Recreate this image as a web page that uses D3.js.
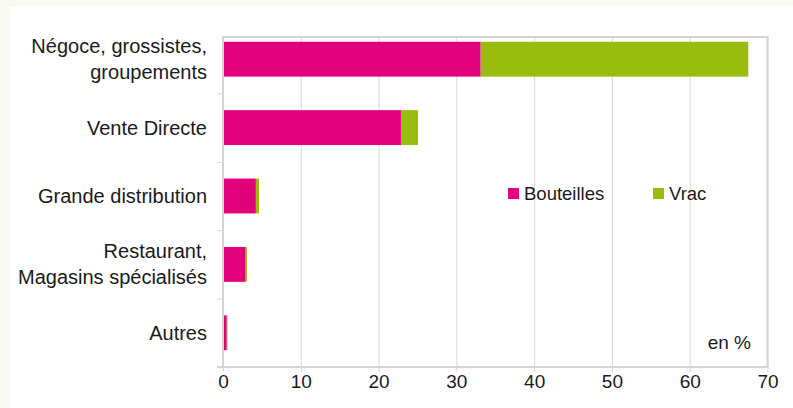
<!DOCTYPE html>
<html>
<head>
<meta charset="utf-8">
<script src="https://cdn.jsdelivr.net/npm/d3@7"></script>
<style>
  html, body { margin: 0; padding: 0; background: #f8f9f0; }
  svg { display: block; font-family: "Liberation Sans", Arial, sans-serif; }
</style>
</head>
<body>
<svg width="793" height="408"></svg>
<script>
// categories, top to bottom
var categories = ["Négoce, grossistes, groupements", "Vente Directe", "Grande distribution",
                  "Restaurant, Magasins spécialisés", "Autres"];
// label lines for each category
var labelLines = [["Négoce, grossistes,", "groupements"], ["Vente Directe"], ["Grande distribution"],
                  ["Restaurant,", "Magasins spécialisés"], ["Autres"]];
var bouteilles = [33.0, 22.75, 4.1, 2.7, 0.35];
var vrac = [34.4, 2.2, 0.4, 0.25, 0.1];
var seriesNames = ["Bouteilles", "Vrac"];
var xTicks = [0, 10, 20, 30, 40, 50, 60, 70];

var colors = { "Bouteilles": "#e3007b", "Vrac": "#99bd0f" };

var svg = d3.select("svg"),
    pLeft = 223, pRight = 767.5, pTop = 37, pBottom = 367,
    bandTop = 25;   // categories are laid out from here

// white panel
svg.append("rect").attr("x", 10).attr("y", 7).attr("width", 783).attr("height", 401).attr("fill", "#fff");

var x = d3.scaleLinear().domain([0, 70]).range([pLeft, pRight]);
var y = d3.scaleBand().domain(categories).range([bandTop, pBottom]).paddingInner(0.49).paddingOuter(0.245);
var yEdge = d3.scaleLinear().domain([0, categories.length]).range([bandTop, pBottom]);

// gridlines
svg.append("g")
    .attr("transform", "translate(0," + pBottom + ")")
    .call(d3.axisBottom(x).tickValues(xTicks).tickSize(-(pBottom - pTop)).tickFormat(""))
    .call(function (g) {
        g.select(".domain").remove();
        g.selectAll("line").attr("stroke", "#d9d9d9").attr("stroke-width", 1);
    });

// frame top + right
svg.append("path")
    .attr("d", "M" + pLeft + "," + pTop + "H" + pRight + "V" + pBottom)
    .attr("fill", "none").attr("stroke", "#d4d4d4").attr("stroke-width", 2);

// stacked bars
var stack = d3.stack().keys(seriesNames);
var rows = categories.map(function (c, i) {
    return { cat: c, "Bouteilles": bouteilles[i], "Vrac": vrac[i] };
});
var layers = stack(rows);

svg.append("g").selectAll("g")
    .data(layers)
    .join("g")
    .attr("fill", function (d) { return colors[d.key]; })
    .selectAll("rect")
    .data(function (d) { return d; })
    .join("rect")
    .attr("x", function (d) { return x(d[0]) + 1; })
    .attr("width", function (d) { return x(d[1]) - x(d[0]); })
    .attr("y", function (d) { return y(d.data.cat); })
    .attr("height", y.bandwidth());

// bottom axis
svg.append("g")
    .attr("transform", "translate(0," + pBottom + ")")
    .call(d3.axisBottom(x).tickValues(xTicks).tickSize(5).tickPadding(3))
    .call(function (g) {
        g.select(".domain").attr("stroke", "#d4d4d4").attr("stroke-width", 2).attr("d", "M" + (pLeft - 6) + ",0H" + (pRight + 1));
        g.selectAll("line").attr("stroke", "#d4d4d4").attr("stroke-width", 1);
        g.selectAll("text").attr("fill", "#1a1a1a").style("font-size", "19px")
            .style("font-family", "'Liberation Sans', Arial, sans-serif");
    });

// left axis (edge ticks)
svg.append("g")
    .attr("transform", "translate(" + pLeft + ",0)")
    .call(d3.axisLeft(yEdge).tickValues([1, 2, 3, 4, 5]).tickSize(6).tickFormat(""))
    .call(function (g) {
        g.select(".domain").attr("stroke", "#d4d4d4").attr("stroke-width", 2).attr("d", "M0," + (pTop - 1) + "V" + (pBottom + 1));
        g.selectAll("line").attr("stroke", "#d4d4d4").attr("stroke-width", 1);
    });

// category labels
var lineH = 26;
svg.append("g").selectAll("text")
    .data(categories)
    .join("text")
    .attr("text-anchor", "end")
    .attr("fill", "#1a1a1a")
    .style("font-size", "20px")
    .attr("transform", function (d) { return "translate(207," + (y(d) + y.bandwidth() / 2) + ")"; })
    .each(function (d, i) {
        var lines = labelLines[i];
        var t = d3.select(this);
        lines.forEach(function (l, j) {
            t.append("tspan").attr("x", 0)
                .attr("y", (j - (lines.length - 1) / 2) * lineH)
                .attr("dy", "0.35em").text(l);
        });
    });

// legend
var legX = [508, 653];
var leg = svg.append("g").selectAll("g")
    .data(seriesNames)
    .join("g")
    .attr("transform", function (d, i) { return "translate(" + legX[i] + ",188)"; });
leg.append("rect").attr("width", 11).attr("height", 11).attr("fill", function (d) { return colors[d]; });
leg.append("text").attr("x", 16).attr("y", 5.5).attr("dy", "0.35em")
    .attr("fill", "#1a1a1a").style("font-size", "18.5px").text(function (d) { return d; });

// unit note
svg.append("text").attr("x", 751).attr("y", 342).attr("dy", "0.35em").attr("text-anchor", "end")
    .attr("fill", "#1a1a1a").style("font-size", "19px").text("en %");
</script>
</body>
</html>
